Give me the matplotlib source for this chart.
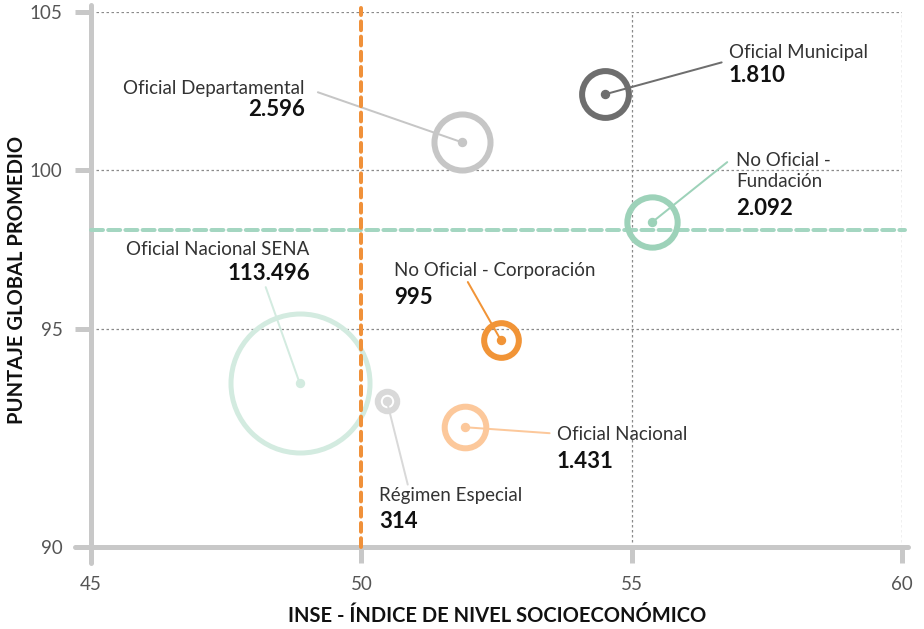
import matplotlib
matplotlib.use("Agg")
import matplotlib.pyplot as plt
import numpy as np

plt.rcParams['font.family'] = ['Lato', 'DejaVu Sans']

# datos por tipo de institucion
tipos = ["Oficial Departamental", "Oficial Municipal", "No Oficial -\nFundación",
         "Oficial Nacional SENA", "No Oficial - Corporación", "Régimen Especial",
         "Oficial Nacional"]
inse = [51.86, 54.50, 55.38, 48.86, 52.58, 50.47, 51.91]
puntaje = [100.89, 102.40, 98.37, 93.29, 94.65, 92.74, 91.90]
estudiantes = [2596, 1810, 2092, 113496, 995, 314, 1431]
etiquetas = ["2.596", "1.810", "2.092", "113.496", "995", "314", "1.431"]

ref_inse = 50
ref_puntaje = 98.12

x_ticks = [45, 50, 55, 60]
y_ticks = [88.12, 95, 100, 105]
y_ticklabels = ["90", "95", "100", "105"]

colores = ["#c6c6c6", "#6e6e6e", "#9dd2b9", "#d3ebe0", "#f19437", "#d9d9d9", "#fcc89b"]

# (fin de la linea guia, posicion del nombre, posicion del numero, alineacion) en pixeles
layout = [
    ((-144, 50), (-157, 54), (-157, 33), "right"),
    ((117, 32), (124, 42), (124, 19), "left"),
    ((75, 60), (84, 51), (84, 14), "left"),
    ((-34, 96), (10, 134), (10, 110), "right"),
    ((-33, 58), (-107, 70), (-107, 43), "left"),
    ((21, -84), (-8, -95), (-8, -121), "left"),
    ((85, -6), (92, -7), (92, -34), "left"),
]

PX = 0.72  # puntos por pixel a 100 dpi
gris = "#c8c8c8"

fig = plt.figure(figsize=(9.24, 6.29), dpi=100)
ax = fig.add_axes([91 / 924, 1 - 547 / 629, 811 / 924, 535 / 629])
ax.set_xlim(45, 60)
ax.set_ylim(88.12, 105)

for s in ax.spines.values():
    s.set_visible(False)

# rejilla punteada
for xv in [55, 60]:
    ax.axvline(xv, color="#8a8a8a", lw=0.9, ls=(0, (2, 2)), zorder=1)
for yv in [95, 100, 105]:
    ax.axhline(yv, color="#8a8a8a", lw=0.9, ls=(0, (2, 2)), zorder=1)

# ejes gruesos
ax.plot([0, 0], [-0.03, 1.013], transform=ax.transAxes, color=gris, lw=5 * PX,
        solid_capstyle="round", clip_on=False, zorder=2)
ax.plot([-0.02, 1.008], [0, 0], transform=ax.transAxes, color=gris, lw=5 * PX,
        solid_capstyle="round", clip_on=False, zorder=2)

ax.set_xticks(x_ticks)
ax.set_yticks(y_ticks)
ax.set_yticklabels(y_ticklabels)
ax.tick_params(length=16 * PX, width=5 * PX, color=gris, labelsize=13.5,
               labelcolor="#555555", pad=9)

# lineas de referencia
ax.axhline(ref_puntaje, xmax=1.004, color="#a4d6c1", lw=4 * PX, ls=(0, (3, 1.3)),
           dash_capstyle="round", clip_on=False, zorder=3)

# burbujas
for i in range(len(tipos)):
    r = min(0.55 * np.sqrt(estudiantes[i]), 69.5)
    ax.plot(inse[i], puntaje[i], "o", ms=2 * r * PX, mfc="none", mec=colores[i],
            mew=(5 if i == 3 else 6) * PX, zorder=4)
    ax.plot(inse[i], puntaje[i], "o", ms=8 * PX, color=colores[i], zorder=5)
    fin, pos_nom, pos_num, ha = layout[i]
    ax.annotate("", xy=(inse[i], puntaje[i]), xytext=fin, textcoords="offset pixels",
                arrowprops=dict(arrowstyle="-", color=colores[i], lw=2 * PX,
                                shrinkA=0, shrinkB=0), zorder=5)
    ax.annotate(tipos[i], xy=(inse[i], puntaje[i]), xytext=pos_nom,
                textcoords="offset pixels", ha=ha, va="center", fontsize=13.5,
                color="#333333", linespacing=1.3, zorder=6)
    ax.annotate(etiquetas[i], xy=(inse[i], puntaje[i]), xytext=pos_num,
                textcoords="offset pixels", ha=ha, va="center", fontsize=16,
                fontweight="bold", color="#111111", zorder=6)

ax.axvline(ref_inse, ymax=1.007, color="#f0913a", lw=4 * PX, ls=(0, (2.2, 1.6)),
           dash_capstyle="round", clip_on=False, zorder=6)

fig.text(497 / 924, 1 - 616 / 629, "INSE - ÍNDICE DE NIVEL SOCIOECONÓMICO",
         ha="center", va="center", fontsize=14.5, fontweight="bold", color="#111111")
fig.text(17 / 924, 1 - 280 / 629, "PUNTAJE GLOBAL PROMEDIO", rotation=90,
         ha="center", va="center", fontsize=14.5, fontweight="bold", color="#111111")

fig.savefig("out.png", dpi=100)
